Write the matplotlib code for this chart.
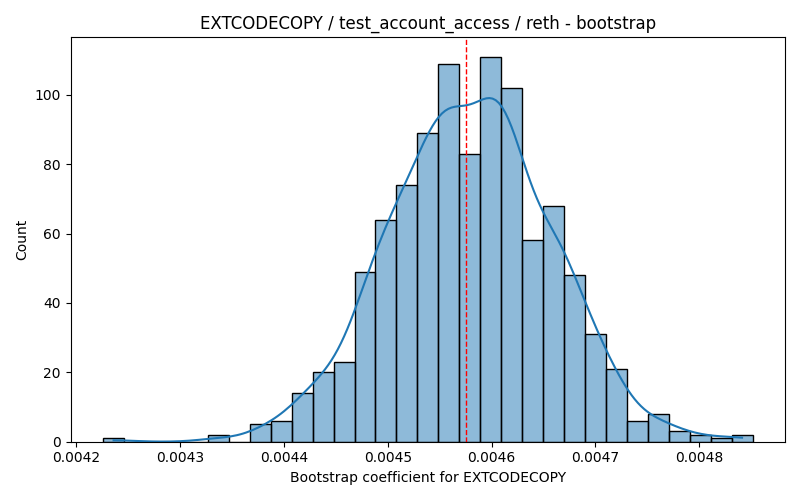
import matplotlib
matplotlib.use("Agg")
import matplotlib.pyplot as plt
import seaborn as sns
import numpy as np

# histogram: 31 equal bins
bin_start = 0.0042257
bin_width = 0.00002018
counts = [1, 0, 0, 0, 0, 2, 0, 5, 6, 14, 20, 23, 49, 64, 74, 89,
          109, 83, 111, 102, 58, 68, 48, 31, 21, 6, 8, 3, 2, 1, 2]
mean_coef = 0.0045753

edges = bin_start + bin_width * np.arange(len(counts) + 1)
centers = (edges[:-1] + edges[1:]) / 2
# one sample per counted bootstrap value, placed at its bin centre
samples = np.repeat(centers, counts)

fig, ax = plt.subplots(figsize=(8, 5), dpi=100)
sns.histplot(samples, bins=edges, kde=True, ax=ax)
ax.axvline(mean_coef, color="red", linestyle="--", linewidth=1)

ax.set_title("EXTCODECOPY / test_account_access / reth - bootstrap")
ax.set_xlabel("Bootstrap coefficient for EXTCODECOPY")
ax.set_ylabel("Count")

plt.tight_layout()
plt.savefig("out.png")
